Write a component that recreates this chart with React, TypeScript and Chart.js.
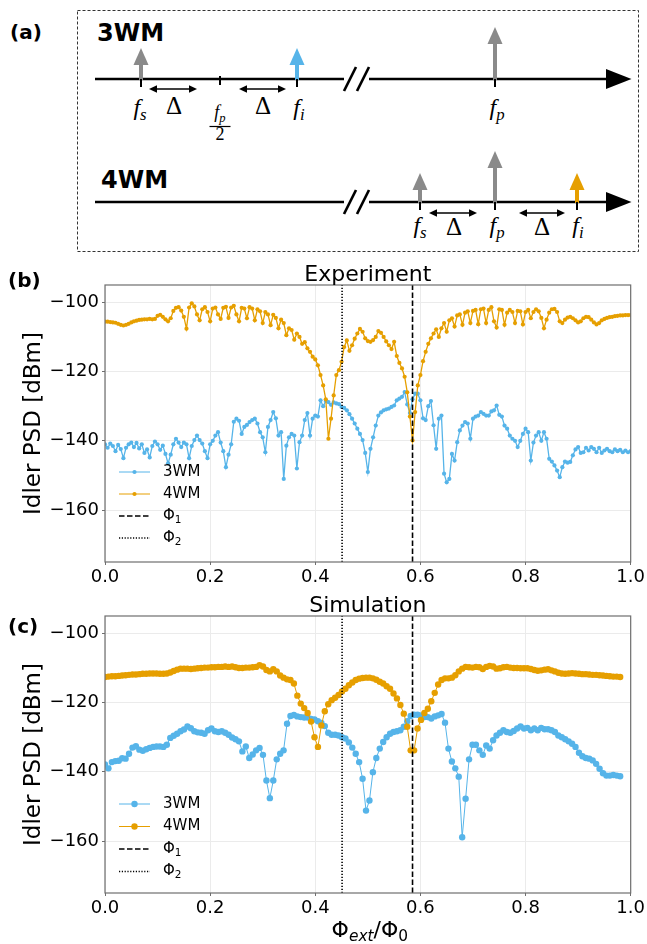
import React, { useEffect, useRef } from 'react';
import { Chart, registerables } from 'chart.js';

Chart.register(...registerables);

// ---------------- data ----------------
const BLUE = '#56B4E9';
const ORANGE = '#E69F00';

const xTicks = [0, 0.2, 0.4, 0.6, 0.8, 1.0];
const yTicks = [-160, -140, -120, -100];
const Y_MIN = -175;
const Y_MAX = -95;
const PHI1 = 0.585;
const PHI2 = 0.451;

// Experiment: sampled every 0.005 in Phi_ext/Phi_0 (0 ... 1)
const EXP_STEP = 0.005;
const exp3WM = [
  -141.0, -142.0, -140.8, -141.5, -143.0, -141.2, -142.4, -145.0, -142.0, -141.0,
  -140.5, -141.8, -140.6, -142.2, -141.0, -143.5, -142.5, -144.8, -141.5, -140.2,
  -141.0, -142.6, -141.4, -143.8, -146.5, -144.0, -141.0, -139.4, -140.5, -141.8,
  -140.5, -141.0, -145.0, -141.5, -139.8, -138.5, -139.8, -140.8, -143.0, -145.0,
  -141.0, -140.0, -138.5, -137.5, -140.5, -143.0, -147.6, -144.0, -141.0, -134.5,
  -133.6, -134.2, -138.0, -136.0, -135.4, -134.6, -134.0, -133.6, -135.0, -137.5,
  -139.0, -143.3, -136.0, -134.0, -131.7, -133.5, -138.5, -137.5, -151.0, -141.4,
  -139.0, -138.0, -138.5, -148.0, -140.4, -138.5, -134.0, -132.0, -138.5, -133.6,
  -132.7, -133.0, -128.3, -130.0, -128.5, -128.8, -129.6, -128.9, -129.2, -129.4,
  -130.2, -130.5, -131.2, -132.3, -133.6, -135.0, -136.5, -138.0, -139.8, -143.5,
  -149.0, -142.3, -139.0, -135.6, -132.7, -131.8, -131.2, -130.9, -130.7, -130.2,
  -129.8, -128.3, -127.8, -127.3, -125.9, -129.5, -132.0, -128.0, -126.4, -126.4,
  -128.3, -133.5, -134.0, -130.0, -128.5, -135.5, -142.3, -133.6, -132.7, -149.5,
  -152.0, -151.0, -143.8, -145.7, -140.4, -137.0, -135.6, -134.6, -135.0, -139.4,
  -133.6, -133.0, -132.7, -131.7, -132.2, -132.7, -132.7, -131.5, -131.2, -129.8,
  -132.5, -133.0, -135.6, -136.5, -138.5, -139.4, -140.0, -141.8, -140.0, -138.0,
  -136.5, -137.5, -145.7, -140.5, -138.5, -137.5, -140.0, -137.5, -139.4, -145.2,
  -146.0, -147.1, -148.6, -150.5, -147.6, -146.0, -146.3, -146.1, -144.2, -142.5,
  -141.8, -143.5, -143.3, -142.0, -142.8, -141.8, -142.3, -143.3, -142.0, -143.5,
  -142.8, -142.3, -143.0, -143.3, -142.5, -143.0, -142.6, -143.3, -142.8, -143.3,
  -143.0,
];
const exp4WM = [
  -105.6, -105.6, -105.7, -105.8, -105.9, -106.2, -106.5, -106.7, -106.5, -106.2,
  -105.8, -105.5, -105.3, -105.1, -105.0, -104.9, -104.9, -104.8, -104.9, -104.8,
  -103.9, -103.6, -104.2, -104.9, -105.5, -104.6, -102.5, -101.6, -101.4, -102.4,
  -104.2, -107.6, -101.5, -100.3, -101.2, -103.5, -105.2, -102.0, -101.4, -102.8,
  -105.5, -101.8, -101.5, -103.5, -104.8, -101.6, -101.3, -104.5, -101.5, -101.0,
  -103.5, -105.5, -101.6, -101.8, -104.6, -101.4, -101.8, -105.2, -102.0, -102.6,
  -106.0, -102.8, -103.5, -106.6, -103.6, -104.5, -107.5, -105.0, -106.0, -109.5,
  -107.5, -108.0, -110.8, -109.0, -110.0, -112.0, -111.5, -113.3, -114.3, -115.7,
  -116.5, -118.2, -121.0, -124.0, -128.0, -139.4, -133.6, -126.9, -121.0, -119.6,
  -117.2, -112.9, -111.0, -114.0, -112.4, -110.5, -109.0, -107.7, -108.5, -110.4,
  -111.2, -111.4, -110.9, -110.0, -108.3, -108.8, -110.0, -111.3, -112.4, -113.5,
  -111.4, -115.5, -117.5, -119.1, -121.5, -126.0, -133.0, -139.9, -131.7, -124.0,
  -121.0, -117.0, -114.3, -112.0, -110.4, -109.0, -107.8, -110.0, -107.5, -106.0,
  -108.5, -105.2, -104.6, -107.0, -103.8, -103.5, -106.5, -103.0, -102.6, -106.0,
  -102.5, -102.2, -106.3, -102.0, -101.8, -106.0, -102.2, -101.4, -105.5, -107.3,
  -102.0, -102.2, -106.5, -103.0, -102.2, -102.8, -106.0, -102.5, -102.6, -106.4,
  -102.8, -102.2, -104.6, -102.8, -102.0, -102.6, -104.5, -107.5, -105.0, -103.0,
  -102.0, -101.9, -102.8, -105.5, -106.0, -105.0, -104.4, -104.2, -104.6, -105.2,
  -105.8, -105.5, -104.6, -104.2, -104.3, -105.0, -105.8, -106.4, -106.0, -105.2,
  -104.8, -104.5, -104.3, -104.2, -104.0, -103.9, -103.8, -103.8, -103.7, -103.7,
  -103.7,
];

// Simulation: 151 samples from 0 to 0.98
const SIM_STEP = 0.98 / 150;
const sim3WM = [
  -137.9, -139.0, -137.2, -136.9, -136.8, -136.1, -136.2, -134.8, -133.0, -132.6,
  -133.6, -133.9, -133.5, -133.1, -132.8, -132.7, -132.7, -132.8, -132.2, -130.2,
  -129.6, -129.0, -128.3, -127.8, -126.9, -127.4, -128.3, -128.6, -128.7, -129.0,
  -128.0, -127.5, -128.3, -128.5, -128.3, -128.7, -129.3, -130.1, -130.6, -131.2,
  -134.1, -132.7, -136.0, -135.0, -133.8, -133.1, -135.1, -142.5, -147.6, -142.5,
  -136.4, -134.8, -133.8, -126.1, -123.9, -123.6, -124.0, -124.2, -124.3, -124.3,
  -124.7, -124.9, -125.4, -125.9, -126.8, -128.7, -129.3, -129.3, -129.5, -130.0,
  -130.4, -131.5, -133.0, -134.8, -137.2, -142.0, -151.2, -148.3, -140.1, -136.0,
  -133.3, -131.4, -130.0, -129.0, -128.5, -128.3, -128.0, -127.0, -125.4, -123.9,
  -123.5, -123.5, -123.7, -124.2, -124.2, -124.6, -124.0, -123.7, -123.3, -125.8,
  -133.3, -137.0, -139.0, -141.4, -158.9, -147.8, -136.4, -132.2, -132.2, -133.8,
  -135.1, -132.4, -133.3, -130.9, -129.5, -128.7, -128.0, -128.5, -128.7, -128.2,
  -127.5, -126.9, -127.5, -127.3, -128.0, -127.5, -128.0, -127.3, -127.7, -127.7,
  -128.0, -128.5, -129.5, -130.0, -130.6, -131.2, -131.9, -132.8, -134.5, -135.5,
  -136.0, -136.2, -136.7, -137.7, -139.1, -140.4, -141.1, -141.1, -140.9, -141.1,
  -141.3,
];
const sim4WM = [
  -112.6, -112.5, -112.4, -112.4, -112.3, -112.2, -112.1, -112.0, -111.9, -111.9,
  -111.8, -111.7, -111.7, -111.6, -111.6, -111.6, -111.7, -111.7, -111.6, -111.3,
  -110.9, -110.5, -110.2, -110.2, -110.2, -110.3, -110.2, -110.1, -110.0, -109.9,
  -109.9, -109.8, -109.8, -109.7, -109.7, -109.6, -109.7, -109.6, -109.8, -110.0,
  -110.0, -109.9, -109.9, -109.8, -109.7, -109.2, -109.6, -110.6, -111.0, -110.4,
  -111.0, -112.2, -112.8, -113.3, -113.5, -114.5, -118.0, -120.3, -121.6, -123.0,
  -125.5, -130.0, -132.8, -126.6, -122.5, -120.5, -119.3, -118.6, -117.8, -116.8,
  -116.0, -115.0, -114.2, -113.5, -113.1, -112.9, -112.8, -112.8, -113.0, -113.4,
  -114.0, -114.5, -115.3, -116.0, -117.4, -118.8, -120.7, -123.2, -127.0, -133.8,
  -133.8, -127.5, -125.0, -123.0, -121.8, -119.6, -117.2, -114.8, -113.5, -113.0,
  -113.0, -112.8, -112.1, -111.0, -110.2, -109.7, -109.8, -109.9, -109.7, -109.8,
  -110.3, -109.7, -109.4, -109.6, -110.2, -110.1, -109.8, -109.7, -109.9, -110.0,
  -110.0, -110.1, -110.1, -110.1, -110.3, -110.6, -110.8, -110.7, -110.5, -110.4,
  -110.7, -111.0, -111.4, -111.6, -111.7, -111.6, -111.5, -111.6, -111.7, -111.8,
  -111.8, -111.9, -112.0, -112.0, -112.1, -112.2, -112.3, -112.4, -112.5, -112.5,
  -112.6,
];

// ---------------- chart panels ----------------
const FONT = '"DejaVu Sans", sans-serif';
Chart.defaults.font.family = FONT;

type PanelCfg = {
  title: string;
  label: string;
  labelY: number;
  top: number;
  height: number;
  axisH: number;
  padTop: number;
  s3: number[];
  s4: number[];
  step: number;
  radius: number;
  lineW: number;
  rows: number[];
  xTitle: boolean;
};

const toPts = (arr: number[], step: number) => arr.map((v, i) => ({ x: i * step, y: v }));

function drawSubText(ctx: CanvasRenderingContext2D, main: string, sub: string, x: number, y: number, size: number) {
  ctx.font = `${size}px ${FONT}`;
  ctx.fillText(main, x, y);
  const w = ctx.measureText(main).width;
  ctx.font = `${size * 0.7}px ${FONT}`;
  ctx.fillText(sub, x + w, y + size * 0.28);
}

function makePlugin(cfg: PanelCfg) {
  return {
    id: 'panelDecor',
    afterDraw(chart: any) {
      const { ctx, chartArea: a } = chart;
      ctx.save();
      // frame
      ctx.strokeStyle = '#6e6e6e';
      ctx.lineWidth = 1.2;
      ctx.setLineDash([]);
      ctx.strokeRect(a.left, a.top, a.right - a.left, a.bottom - a.top);
      ctx.fillStyle = '#000';
      // title
      ctx.font = `22px ${FONT}`;
      ctx.textAlign = 'center';
      ctx.textBaseline = 'alphabetic';
      ctx.fillText(cfg.title, (a.left + a.right) / 2, a.top - 4);
      // panel label
      ctx.font = `bold 20px ${FONT}`;
      ctx.textAlign = 'left';
      ctx.fillText(cfg.label, 8, cfg.labelY);
      // y title
      ctx.save();
      ctx.translate(40, (a.top + a.bottom) / 2);
      ctx.rotate(-Math.PI / 2);
      ctx.font = `23px ${FONT}`;
      ctx.textAlign = 'center';
      ctx.fillText('Idler PSD [dBm]', 0, 0);
      ctx.restore();
      // legend
      const hx0 = 119, hx1 = 150, tx = 163;
      const rowsY = cfg.rows.map((o) => a.bottom + o);
      const items = [
        { kind: 'series', color: BLUE, text: '3WM' },
        { kind: 'series', color: ORANGE, text: '4WM' },
        { kind: 'dash', color: '#000', text: 'Φ', sub: '1' },
        { kind: 'dot', color: '#000', text: 'Φ', sub: '2' },
      ];
      items.forEach((it, k) => {
        const y = rowsY[k];
        ctx.beginPath();
        ctx.strokeStyle = it.color;
        if (it.kind === 'series') {
          ctx.lineWidth = 1;
          ctx.setLineDash([]);
        } else if (it.kind === 'dash') {
          ctx.lineWidth = 1.5;
          ctx.setLineDash([5.5, 2.5]);
        } else {
          ctx.lineWidth = 1.5;
          ctx.setLineDash([1.2, 1.6]);
        }
        ctx.moveTo(hx0, y);
        ctx.lineTo(hx1, y);
        ctx.stroke();
        ctx.setLineDash([]);
        if (it.kind === 'series') {
          ctx.beginPath();
          ctx.fillStyle = it.color;
          ctx.arc((hx0 + hx1) / 2, y, cfg.radius, 0, Math.PI * 2);
          ctx.fill();
        }
        ctx.fillStyle = '#000';
        ctx.textAlign = 'left';
        ctx.textBaseline = 'middle';
        if (it.sub) {
          drawSubText(ctx, it.text, it.sub, tx, y, 15);
        } else {
          ctx.font = `15px ${FONT}`;
          ctx.fillText(it.text, tx, y);
        }
      });
      // x title
      if (cfg.xTitle) {
        ctx.textBaseline = 'alphabetic';
        ctx.textAlign = 'left';
        const big = 22, small = 15.4;
        const yb = a.bottom + 44;
        const parts = [
          { t: 'Φ', f: `${big}px ${FONT}`, dy: 0 },
          { t: 'ext', f: `italic ${small}px ${FONT}`, dy: 4 },
          { t: '/Φ', f: `${big}px ${FONT}`, dy: 0 },
          { t: '0', f: `${small}px ${FONT}`, dy: 4 },
        ];
        let total = 0;
        parts.forEach((p) => { ctx.font = p.f; total += ctx.measureText(p.t).width; });
        let x = (a.left + a.right) / 2 + 2 - total / 2;
        parts.forEach((p) => {
          ctx.font = p.f;
          ctx.fillText(p.t, x, yb + p.dy);
          x += ctx.measureText(p.t).width;
        });
      }
      ctx.restore();
    },
  };
}

function ChartPanel({ cfg }: { cfg: PanelCfg }) {
  const ref = useRef<HTMLCanvasElement>(null);
  useEffect(() => {
    const vline = (x: number, dash: number[], label: string) => ({
      label,
      data: [{ x, y: Y_MIN }, { x, y: Y_MAX }],
      borderColor: '#000',
      borderWidth: 1.6,
      borderDash: dash,
      pointRadius: 0,
      order: 0,
    });
    const series = (arr: number[], color: string, label: string, order: number) => ({
      label,
      data: toPts(arr, cfg.step),
      borderColor: color,
      backgroundColor: color,
      borderWidth: cfg.lineW,
      pointRadius: cfg.radius,
      pointBackgroundColor: color,
      pointBorderColor: color,
      pointBorderWidth: 0,
      pointHoverRadius: cfg.radius,
      order,
    });
    const chart = new Chart(ref.current as HTMLCanvasElement, {
      type: 'line',
      data: {
        datasets: [
          vline(PHI1, [5.5, 2.5], 'Φ1'),
          vline(PHI2, [1.3, 1.7], 'Φ2'),
          series(cfg.s4, ORANGE, '4WM', 1),
          series(cfg.s3, BLUE, '3WM', 2),
        ] as any,
      },
      options: {
        responsive: false,
        animation: false,
        events: [],
        layout: { padding: { top: cfg.padTop, right: 16, left: 0, bottom: 0 } },
        plugins: {
          legend: { display: false },
          tooltip: { enabled: false },
          title: { display: false },
        },
        scales: {
          x: {
            type: 'linear',
            min: 0,
            max: 1,
            afterBuildTicks: (s: any) => { s.ticks = xTicks.map((v) => ({ value: v })); },
            afterFit: (s: any) => { s.height = cfg.axisH; },
            ticks: {
              autoSkip: false,
              maxRotation: 0,
              padding: 2,
              color: '#000',
              font: { size: 18 },
              callback: (v: any) => Number(v).toFixed(1),
            },
            grid: { color: '#ebebeb', lineWidth: 1, tickLength: 3, tickColor: '#6e6e6e' },
            border: { display: false },
          },
          y: {
            type: 'linear',
            min: Y_MIN,
            max: Y_MAX,
            afterBuildTicks: (s: any) => { s.ticks = yTicks.map((v) => ({ value: v })); },
            afterFit: (s: any) => { s.width = 105; },
            ticks: {
              padding: 3,
              color: '#000',
              font: { size: 18 },
              callback: (v: any) => (Number(v) < 0 ? '\u2212' + Math.abs(Number(v)) : String(v)),
            },
            grid: { color: '#ebebeb', lineWidth: 1, tickLength: 3, tickColor: '#6e6e6e' },
            border: { display: false },
          },
        },
      } as any,
      plugins: [makePlugin(cfg)],
    });
    return () => chart.destroy();
  }, []);
  return (
    <canvas
      ref={ref}
      width={647}
      height={cfg.height}
      style={{ position: 'absolute', left: 0, top: cfg.top, width: 647, height: cfg.height }}
    />
  );
}

const panelB: PanelCfg = {
  title: 'Experiment', label: '(b)', labelY: 37, top: 250, height: 340, axisH: 28, padTop: 35,
  s3: exp3WM, s4: exp4WM, step: EXP_STEP, radius: 2.1, lineW: 1.3, rows: [-90, -68, -46, -24], xTitle: false,
};
const panelC: PanelCfg = {
  title: 'Simulation', label: '(c)', labelY: 43, top: 590, height: 354, axisH: 51, padTop: 26,
  s3: sim3WM, s4: sim4WM, step: SIM_STEP, radius: 3.2, lineW: 1, rows: [-89, -66.5, -44, -21.5], xTitle: true,
};

// ---------------- schematic (a) ----------------
const SERIF = '"Liberation Serif", "DejaVu Serif", serif';
const GRAY = '#8a8a8a';

function VArrow({ x, base, top, color }: { x: number; base: number; top: number; color: string }) {
  return (
    <g>
      <line x1={x} y1={base + 1} x2={x} y2={top + 15} stroke={color} strokeWidth={4} />
      <polygon points={`${x - 7.5},${top + 17} ${x},${top} ${x + 7.5},${top + 17}`} fill={color} />
    </g>
  );
}

function Tick({ x, y }: { x: number; y: number }) {
  return <line x1={x} y1={y} x2={x} y2={y + 8} stroke="#000" strokeWidth={2} />;
}

function DArrow({ x1, x2, y }: { x1: number; x2: number; y: number }) {
  return (
    <g>
      <line x1={x1 + 5} y1={y} x2={x2 - 5} y2={y} stroke="#000" strokeWidth={1.5} />
      <polygon points={`${x1},${y} ${x1 + 8},${y - 3.8} ${x1 + 8},${y + 3.8}`} fill="#000" />
      <polygon points={`${x2},${y} ${x2 - 8},${y - 3.8} ${x2 - 8},${y + 3.8}`} fill="#000" />
    </g>
  );
}

function FLabel({ x, y, sub, size = 24 }: { x: number; y: number; sub: string; size?: number }) {
  return (
    <text x={x} y={y} textAnchor="middle" fontFamily={SERIF} fontStyle="italic" fontSize={size}>
      f<tspan fontSize={size * 0.7} dy={size * 0.2}>{sub}</tspan>
    </text>
  );
}

function Delta({ x, y }: { x: number; y: number }) {
  return (
    <text x={x} y={y} textAnchor="middle" fontFamily={SERIF} fontSize={25}>Δ</text>
  );
}

function FreqAxis({ y }: { y: number }) {
  return (
    <g>
      <line x1={95} y1={y} x2={344} y2={y} stroke="#000" strokeWidth={2.6} />
      <line x1={369} y1={y} x2={608} y2={y} stroke="#000" strokeWidth={2.6} />
      <polygon points={`606,${y - 10} 631.5,${y} 606,${y + 10}`} fill="#000" />
      <line x1={344} y1={y + 12} x2={356} y2={y - 12} stroke="#000" strokeWidth={2.6} />
      <line x1={357} y1={y + 12} x2={369} y2={y - 12} stroke="#000" strokeWidth={2.6} />
    </g>
  );
}

function Diagram() {
  const y3 = 79;
  const y4 = 202;
  return (
    <svg width={647} height={256} style={{ position: 'absolute', left: 0, top: 0 }}>
      <rect x={77.5} y={10.5} width={561} height={241} fill="none" stroke="#333" strokeWidth={1} strokeDasharray="3,2" />
      <text x={10} y={39} fontFamily={FONT} fontWeight="bold" fontSize={20}>(a)</text>
      <text x={97} y={41} fontFamily={FONT} fontWeight="bold" fontSize={24}>3WM</text>
      <text x={101} y={188} fontFamily={FONT} fontWeight="bold" fontSize={24}>4WM</text>

      {/* 3WM */}
      <FreqAxis y={y3} />
      <VArrow x={141} base={y3} top={48} color={GRAY} />
      <VArrow x={297} base={y3} top={48} color={BLUE} />
      <VArrow x={495} base={y3} top={27} color={GRAY} />
      <Tick x={141} y={y3} />
      <Tick x={297} y={y3} />
      <Tick x={495} y={y3} />
      <line x1={220} y1={76} x2={220} y2={85} stroke="#000" strokeWidth={2} />
      <DArrow x1={149} x2={197} y={89} />
      <DArrow x1={239} x2={286} y={89} />
      <FLabel x={140} y={115} sub="s" />
      <Delta x={174} y={113.5} />
      <FLabel x={220} y={118} sub="p" size={18} />
      <line x1={209.5} y1={126.5} x2={230.5} y2={126.5} stroke="#000" strokeWidth={1.2} />
      <text x={220} y={140} textAnchor="middle" fontFamily={SERIF} fontSize={18}>2</text>
      <Delta x={263} y={113.5} />
      <FLabel x={299} y={115} sub="i" />
      <FLabel x={497} y={115} sub="p" />

      {/* 4WM */}
      <FreqAxis y={y4} />
      <VArrow x={420} base={y4} top={173} color={GRAY} />
      <VArrow x={495} base={y4} top={151} color={GRAY} />
      <VArrow x={577} base={y4} top={173} color={ORANGE} />
      <Tick x={420} y={y4} />
      <Tick x={495} y={y4} />
      <Tick x={577} y={y4} />
      <DArrow x1={429} x2={477} y={213} />
      <DArrow x1={519} x2={565} y={213} />
      <FLabel x={420} y={233} sub="s" />
      <Delta x={454} y={235} />
      <FLabel x={497} y={233} sub="p" />
      <Delta x={542} y={235} />
      <FLabel x={578} y={233} sub="i" />
    </svg>
  );
}

export default function App() {
  return (
    <div style={{ position: 'absolute', left: 0, top: 0, width: 647, height: 944, background: '#fff', overflow: 'hidden' }}>
      <Diagram />
      <ChartPanel cfg={panelB} />
      <ChartPanel cfg={panelC} />
    </div>
  );
}
